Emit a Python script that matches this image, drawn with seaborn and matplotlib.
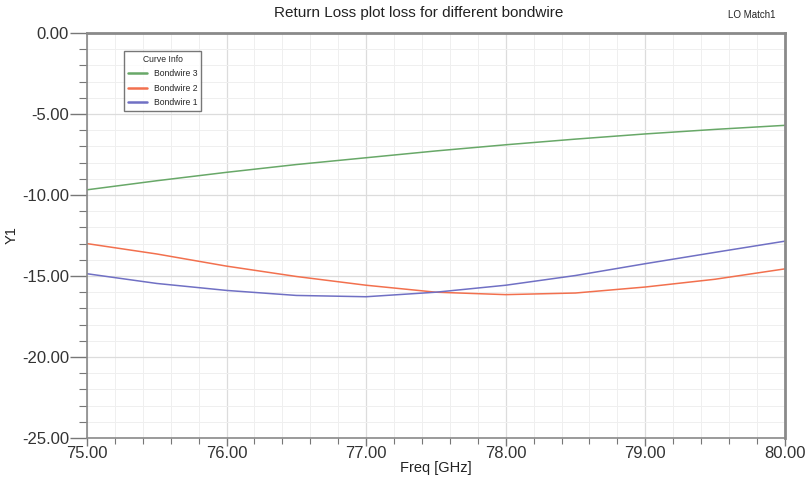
import numpy as np
import pandas as pd
import matplotlib
matplotlib.use("Agg")
import matplotlib.pyplot as plt
from matplotlib.ticker import MultipleLocator, FormatStrFormatter
import seaborn as sns

sns.set_theme(style="white")
plt.rcParams['font.family'] = ['Liberation Sans', 'DejaVu Sans']

# values
freq = [75.0, 75.5, 76.0, 76.5, 77.0, 77.5, 78.0, 78.5, 79.0, 79.5, 80.0]
bondwire3 = [-9.68, -9.12, -8.6, -8.12, -7.7, -7.28, -6.9, -6.55, -6.23, -5.95, -5.7]
bondwire2 = [-13.0, -13.64, -14.39, -15.03, -15.57, -16.0, -16.15, -16.05, -15.68, -15.2, -14.56]
bondwire1 = [-14.86, -15.46, -15.89, -16.2, -16.28, -16.0, -15.57, -14.97, -14.24, -13.54, -12.85]
series_names = ["Bondwire 3", "Bondwire 2", "Bondwire 1"]
colors = ["#68a868", "#f2704e", "#7070c4"]

df = pd.concat([
    pd.DataFrame({"freq": freq, "Y1": vals, "curve": name})
    for name, vals in zip(series_names, [bondwire3, bondwire2, bondwire1])
])

fig = plt.figure(figsize=(8.05, 4.79), dpi=100)
ax = fig.add_axes([0.108, 0.0856, 0.867, 0.8455])

sns.lineplot(data=df, x="freq", y="Y1", hue="curve", hue_order=series_names,
             palette=colors, linewidth=1.1, ax=ax)

ax.set_xlim(75, 80)
ax.set_ylim(-25, 0)
ax.xaxis.set_major_locator(MultipleLocator(1))
ax.xaxis.set_minor_locator(MultipleLocator(0.2))
ax.yaxis.set_major_locator(MultipleLocator(5))
ax.yaxis.set_minor_locator(MultipleLocator(1))
ax.xaxis.set_major_formatter(FormatStrFormatter("%.2f"))
ax.yaxis.set_major_formatter(FormatStrFormatter("%.2f"))

ax.grid(which="major", color="#dcdcdc", linewidth=0.9)
ax.grid(which="minor", color="#efefef", linewidth=0.7)
ax.set_axisbelow(True)

for name, s in ax.spines.items():
    s.set_color("#8a8a8a")
    s.set_linewidth(2.0 if name in ("top", "right") else 1.2)

ax.tick_params(axis="y", which="major", direction="out", length=12, width=1, color="#777777",
               labelsize=12, labelcolor="#333333", left=True, pad=1)
ax.tick_params(axis="y", which="minor", direction="out", length=6, width=0.8, color="#777777",
               left=True)
ax.tick_params(axis="x", which="major", direction="out", length=6, width=1, color="#777777",
               labelsize=12, labelcolor="#333333", bottom=True, pad=0)
ax.tick_params(axis="x", which="minor", direction="out", length=4, width=0.8, color="#777777",
               bottom=True)

ax.set_xlabel("Freq [GHz]", fontsize=10.5, labelpad=0, color="#222222")
ax.set_ylabel("Y1", fontsize=10.5, labelpad=2, color="#222222")

fig.text(0.52, 0.972, "Return Loss plot loss for different bondwire",
         ha="center", va="center", fontsize=11, color="#222222")
fig.text(0.934, 0.969, "LO Match1", ha="center", va="center", fontsize=7, color="#222222")

leg = ax.legend(title="Curve Info", loc="upper left", bbox_to_anchor=(0.053, 0.956),
                fontsize=6.2, title_fontsize=6.2, frameon=True, fancybox=False,
                handlelength=2.2, borderpad=0.45, labelspacing=0.65, handletextpad=0.8,
                borderaxespad=0)
leg.get_frame().set_edgecolor("#555555")
leg.get_frame().set_linewidth(1.0)
for line in leg.get_lines():
    line.set_linewidth(1.8)

fig.savefig("out.png", dpi=100)
